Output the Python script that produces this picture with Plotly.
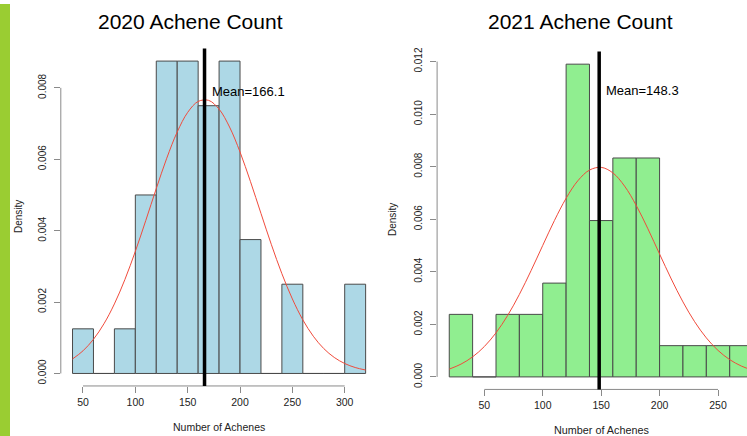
import plotly.graph_objects as go

W, H = 747, 436

# ---------------- data ----------------
bin_width = 20
bins_2020 = [40, 60, 80, 100, 120, 140, 160, 180, 200, 220, 240, 260, 280, 300]
dens_2020 = [0.00125, 0, 0.00125, 0.005, 0.00875, 0.00875, 0.0075, 0.00875,
             0.00375, 0, 0.0025, 0, 0, 0.0025]
mean_2020 = 166.1
curve_x_2020 = [40, 50, 60, 70, 80, 90, 100, 110, 120, 130, 140, 150, 160, 170,
                180, 190, 200, 210, 220, 230, 240, 250, 260, 270, 280, 290, 300,
                310, 320]
curve_y_2020 = [0.000406, 0.000634, 0.000957, 0.001391, 0.001948, 0.002629,
                0.003420, 0.004287, 0.005179, 0.006029, 0.006764, 0.007313,
                0.007619, 0.007650, 0.007403, 0.006903, 0.006204, 0.005373,
                0.004484, 0.003606, 0.002795, 0.002088, 0.001502, 0.001043,
                0.000697, 0.000449, 0.000279, 0.000167, 0.000096]
xticks_2020 = [50, 100, 150, 200, 250, 300]
yticks_2020 = [0.000, 0.002, 0.004, 0.006, 0.008]
label_y_2020 = 0.0079

bins_2021 = [20, 40, 60, 80, 100, 120, 140, 160, 180, 200, 220, 240, 260]
dens_2021 = [0.00238, 0, 0.00238, 0.00238, 0.00357, 0.0119, 0.00595, 0.00833,
             0.00833, 0.00119, 0.00119, 0.00119, 0.00119]
mean_2021 = 148.3
curve_x_2021 = [20, 30, 40, 50, 60, 70, 80, 90, 100, 110, 120, 130, 140, 150,
                160, 170, 180, 190, 200, 210, 220, 230, 240, 250, 260, 270, 280]
curve_y_2021 = [0.000297, 0.000486, 0.000764, 0.001155, 0.001678, 0.002341,
                0.003139, 0.004043, 0.005004, 0.005950, 0.006798, 0.007462,
                0.007870, 0.007974, 0.007764, 0.007262, 0.006526, 0.005636,
                0.004675, 0.003726, 0.002854, 0.002100, 0.001485, 0.001009,
                0.000658, 0.000413, 0.000248]
xticks_2021 = [50, 100, 150, 200, 250]
yticks_2021 = [0.000, 0.002, 0.004, 0.006, 0.008, 0.010, 0.012]
label_y_2021 = 0.0109

titles = ["2020 Achene Count", "2021 Achene Count"]
xlabel = "Number of Achenes"
ylabel = "Density"

# ---------------- styling ----------------
FONT = "Liberation Sans, Arial, Helvetica, sans-serif"
TXT = "#222222"
AX = "#8a8a8a"
BORDER = "#4a4a4a"
CURVE = "rgb(240,75,60)"

def px_x(p):
    return p / W

def px_y(p):
    return 1 - p / H

fig = go.Figure()

centers_2020 = [b + bin_width / 2 for b in bins_2020]
centers_2021 = [b + bin_width / 2 for b in bins_2021]

fig.add_trace(go.Bar(x=centers_2020, y=dens_2020, width=bin_width,
                     marker=dict(color="#ADD8E6", line=dict(color=BORDER, width=1)),
                     xaxis="x", yaxis="y", hoverinfo="skip"))
fig.add_trace(go.Scatter(x=curve_x_2020, y=curve_y_2020, mode="lines",
                         line=dict(color=CURVE, width=1, shape="spline"),
                         xaxis="x", yaxis="y", hoverinfo="skip"))

fig.add_trace(go.Bar(x=centers_2021, y=dens_2021, width=bin_width,
                     marker=dict(color="#90EE90", line=dict(color=BORDER, width=1)),
                     xaxis="x2", yaxis="y2", hoverinfo="skip"))
fig.add_trace(go.Scatter(x=curve_x_2021, y=curve_y_2021, mode="lines",
                         line=dict(color=CURVE, width=1, shape="spline"),
                         xaxis="x2", yaxis="y2", hoverinfo="skip"))

tickfont = dict(family=FONT, size=10.5, color=TXT)

common_x = dict(showgrid=False, zeroline=False, showline=False, ticks="outside",
                ticklen=6, tickcolor=AX, tickwidth=1, tickfont=tickfont,
                tickmode="array", fixedrange=True)
common_y = dict(showgrid=False, zeroline=False, showline=False, ticks="outside",
                ticklen=6, tickcolor=AX, tickwidth=1, tickfont=dict(family=FONT, size=10, color=TXT),
                tickmode="array", tickangle=-90, fixedrange=True, ticklabelstandoff=4)

fig.update_layout(
    width=W, height=H,
    margin=dict(l=0, r=0, t=0, b=0),
    paper_bgcolor="white", plot_bgcolor="white",
    showlegend=False, bargap=0,
    xaxis=dict(common_x, domain=[px_x(60.8), px_x(367)], range=[28.8, 321.3],
               tickvals=xticks_2020, ticktext=[str(v) for v in xticks_2020],
               anchor="y"),
    yaxis=dict(common_y, domain=[px_y(385.5), px_y(45)], range=[-0.00035, 0.0091],
               tickvals=yticks_2020, ticktext=[f"{v:.3f}" for v in yticks_2020],
               anchor="x"),
    xaxis2=dict(common_x, domain=[px_x(437.1), 1.0], range=[9.6, 274.8],
                tickvals=xticks_2021, ticktext=[str(v) for v in xticks_2021],
                anchor="y2"),
    yaxis2=dict(common_y, domain=[px_y(389), px_y(48)], range=[-0.000476, 0.01238],
                tickvals=yticks_2021, ticktext=[f"{v:.3f}" for v in yticks_2021],
                anchor="x2"),
)

shapes = [
    # green strip at left edge
    dict(type="rect", xref="paper", yref="paper", x0=0, x1=px_x(10), y0=0, y1=1,
         fillcolor="#9ACD32", line=dict(width=0), layer="below"),
    # axis lines (R style: from first to last tick)
    dict(type="line", xref="x domain", yref="y", x0=0, x1=0,
         y0=yticks_2020[0], y1=yticks_2020[-1], line=dict(color=AX, width=1)),
    dict(type="line", xref="x", yref="y domain", y0=0, y1=0,
         x0=xticks_2020[0], x1=xticks_2020[-1], line=dict(color=AX, width=1)),
    dict(type="line", xref="x2 domain", yref="y2", x0=0, x1=0,
         y0=yticks_2021[0], y1=yticks_2021[-1], line=dict(color=AX, width=1)),
    dict(type="line", xref="x2", yref="y2 domain", y0=0, y1=0,
         x0=xticks_2021[0], x1=xticks_2021[-1], line=dict(color=AX, width=1)),
    # mean lines
    dict(type="line", xref="x", yref="y domain", x0=mean_2020, x1=mean_2020,
         y0=0, y1=1, line=dict(color="black", width=3.5), layer="above"),
    dict(type="line", xref="x2", yref="y2 domain", x0=mean_2021, x1=mean_2021,
         y0=0, y1=1, line=dict(color="black", width=3.5), layer="above"),
]
fig.update_layout(shapes=shapes)

ann = []
# titles
ann.append(dict(text=titles[0], xref="paper", yref="paper", x=px_x(190.8), y=px_y(18),
                xanchor="center", yanchor="middle", showarrow=False,
                font=dict(family=FONT, size=21, color="black")))
ann.append(dict(text=titles[1], xref="paper", yref="paper", x=px_x(580.5), y=px_y(18),
                xanchor="center", yanchor="middle", showarrow=False,
                font=dict(family=FONT, size=21, color="black")))
# axis titles
ann.append(dict(text=xlabel, xref="paper", yref="paper", x=px_x(219), y=px_y(427),
                xanchor="center", yanchor="middle", showarrow=False,
                font=dict(family=FONT, size=10.5, color=TXT)))
ann.append(dict(text=xlabel, xref="paper", yref="paper", x=px_x(601.3), y=px_y(430),
                xanchor="center", yanchor="middle", showarrow=False,
                font=dict(family=FONT, size=10.8, color=TXT)))
ann.append(dict(text=ylabel, xref="paper", yref="paper", x=px_x(18), y=px_y(215),
                xanchor="center", yanchor="middle", showarrow=False, textangle=-90,
                font=dict(family=FONT, size=10, color=TXT)))
ann.append(dict(text=ylabel, xref="paper", yref="paper", x=px_x(392), y=px_y(218),
                xanchor="center", yanchor="middle", showarrow=False, textangle=-90,
                font=dict(family=FONT, size=10, color=TXT)))
# mean labels
ann.append(dict(text=f"Mean={mean_2020}", xref="x", yref="y", x=mean_2020, y=label_y_2020,
                xanchor="left", yanchor="middle", xshift=5, showarrow=False,
                font=dict(family=FONT, size=13, color="black")))
ann.append(dict(text=f"Mean={mean_2021}", xref="x2", yref="y2", x=mean_2021, y=label_y_2021,
                xanchor="left", yanchor="middle", xshift=5, showarrow=False,
                font=dict(family=FONT, size=13, color="black")))
fig.update_layout(annotations=ann)

fig.write_html("out.html", config={"displayModeBar": False, "staticPlot": True},
               post_script="document.body.style.margin='0';document.body.style.padding='0';document.body.style.overflow='hidden';")
